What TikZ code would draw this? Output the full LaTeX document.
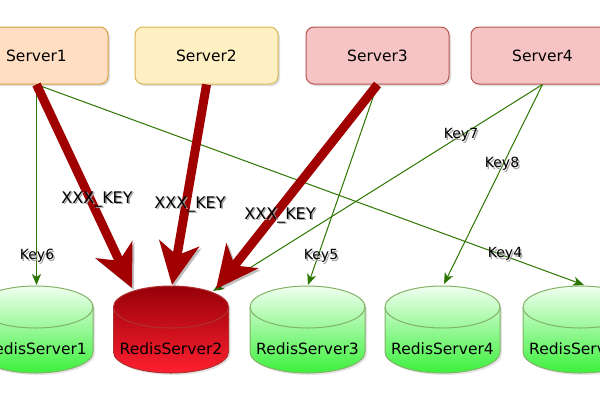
\documentclass[tikz,border=0pt]{standalone}
\usepackage{fontspec}
\setmainfont{DejaVu Sans}
\usetikzlibrary{arrows.meta,shadows}
\definecolor{sAfill}{HTML}{FFDEC2}
\definecolor{sAline}{HTML}{D6A040}
\definecolor{sBfill}{HTML}{FFF0C4}
\definecolor{sBline}{HTML}{D6B656}
\definecolor{sCfill}{HTML}{F6C4C4}
\definecolor{sCline}{HTML}{B85450}
\definecolor{gline}{HTML}{82B366}
\definecolor{gtop}{HTML}{F0FFF0}
\definecolor{gbot}{HTML}{3CF03C}
\definecolor{rtop}{HTML}{960008}
\definecolor{rbot}{HTML}{FF2030}
\definecolor{rline}{HTML}{B03030}
\definecolor{bigred}{HTML}{A00000}
\definecolor{keygreen}{HTML}{2D7600}
\newcommand\shtext[1]{\rlap{\hspace{1.5pt}\raisebox{-1.5pt}{\color{black!35}#1}}#1}
\tikzset{
  srv/.style={draw, line width=1pt, rounded corners=8pt, minimum width=143pt, minimum height=57pt,
    font=\fontsize{15.5}{18}\selectfont,
    drop shadow={opacity=0.25, shadow xshift=2pt, shadow yshift=-2pt}},
  gcyl/.style={draw=gline, line width=1pt, top color=gtop, bottom color=gbot,
    drop shadow={opacity=0.2, shadow xshift=2pt, shadow yshift=-2pt}},
  rcyl/.style={draw=rline, line width=1pt, top color=rtop, bottom color=rbot,
    drop shadow={opacity=0.2, shadow xshift=2pt, shadow yshift=-2pt}},
  cyltext/.style={font=\fontsize{15.5}{18}\selectfont, inner sep=0pt},
  bigarrow/.style={draw=bigred, line width=9pt,
    -{Stealth[length=42pt, width=40pt, inset=12pt]},
    preaction={draw=black, opacity=0.25, transform canvas={xshift=2pt, yshift=-2pt}}},
  keyarrow/.style={draw=keygreen, line width=1pt,
    -{Stealth[length=11pt, width=9pt, inset=3pt]}},
  keylbl/.style={font=\fontsize{14}{16}\selectfont, inner sep=1pt},
  xkeylbl/.style={font=\fontsize{16}{18}\selectfont, inner sep=1pt}
}
\begin{document}
\begin{tikzpicture}[x=1pt, y=-1pt]
\useasboundingbox (0,0) rectangle (600,400);
\clip (0,0) rectangle (600,400);
\fill[white] (0,0) rectangle (600,400);

% servers
\node[srv, fill=sAfill, draw=sAline] (s1) at (36.5,55.5) {Server1};
\node[srv, fill=sBfill, draw=sBline] (s2) at (206.5,55.5) {Server2};
\node[srv, fill=sCfill, draw=sCline] (s3) at (377.5,55.5) {Server3};
\node[srv, fill=sCfill, draw=sCline] (s4) at (542.5,55.5) {Server4};

% cylinders
\foreach \n/\x/\st/\ln/\t in {r1/35.5/gcyl/gline/RedisServer1, r2/171/rcyl/rline/RedisServer2, r3/307.5/gcyl/gline/RedisServer3, r4/442.5/gcyl/gline/RedisServer4, r5/580.5/gcyl/gline/RedisServer5}{
  \path[\st] (\x-57.5,307) -- (\x-57.5,352) arc[start angle=180, end angle=360, x radius=57.5pt, y radius=21pt]
     -- (\x+57.5,307) arc[start angle=0, end angle=180, x radius=57.5pt, y radius=21pt] -- cycle;
  \draw[draw=\ln, line width=1pt] (\x-57.5,307) arc[start angle=180, end angle=360, x radius=57.5pt, y radius=21pt];
  \node[cyltext] (\n) at (\x,349) {\t};
}

% target coordinates
\coordinate (t1) at (36.5,285);
\coordinate (t2a) at (132,288);
\coordinate (t2b) at (172,285);
\coordinate (t2c) at (216,289);
\coordinate (t2d) at (213,291);
\coordinate (t3) at (308,285);
\coordinate (t4) at (444,284);
\coordinate (t5) at (584,285);

% green key arrows
\draw[keyarrow] (s1.south) -- (t1);
\draw[keyarrow] (s1.south) -- (t5);
\draw[keyarrow] (s3.south) -- (t3);
\draw[keyarrow] (s4.south) -- (t2d);
\draw[keyarrow] (s4.south) -- (t4);

% big red arrows
\path[bigarrow] (s1.south) -- (t2a);
\path[bigarrow] (s2.south) -- (t2b);
\path[bigarrow] (s3.south) -- (t2c);

% labels
\node[xkeylbl] (x1) at (97,200) {\shtext{XXX\_KEY}};
\node[xkeylbl] (x2) at (190,205) {\shtext{XXX\_KEY}};
\node[xkeylbl] (x3) at (280,216) {\shtext{XXX\_KEY}};
\node[keylbl] (k6) at (37,257) {\shtext{Key6}};
\node[keylbl] (k5) at (321,257) {\shtext{Key5}};
\node[keylbl] (k4) at (505,255) {\shtext{Key4}};
\node[keylbl] (k7) at (461,136) {\shtext{Key7}};
\node[keylbl] (k8) at (502,165) {\shtext{Key8}};
\end{tikzpicture}
\end{document}
